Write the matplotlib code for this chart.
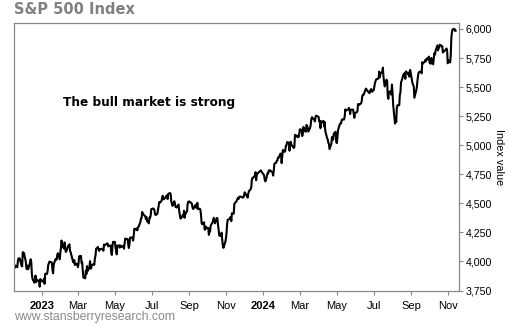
import matplotlib
matplotlib.use("Agg")
import matplotlib.pyplot as plt
import matplotlib.dates as mdates
import pandas as pd

# NYSE market holidays in the charted period
holidays = [
    "2022-11-24", "2022-12-26", "2023-01-02", "2023-01-16", "2023-02-20",
    "2023-04-07", "2023-05-29", "2023-06-19", "2023-07-04", "2023-09-04",
    "2023-11-23", "2023-12-25", "2024-01-01", "2024-01-15", "2024-02-19",
    "2024-03-29", "2024-05-27", "2024-06-19", "2024-07-04", "2024-09-02",
]

# Daily closes of the S&P 500, Nov 16 2022 .. Nov 13 2024
close_2022 = [
    3958, 3946, 3965, 3950, 4003, 4027, 4026, 3964, 3958, 4080,
    4076, 4072, 3999, 3941, 3933, 3964, 3934, 3991, 4019, 3996, 3895,
    3852, 3818, 3821, 3879, 3822, 3845, 3829, 3783, 3849, 3840,
]
close_2023_h1 = [
    3824, 3853, 3808, 3895, 3893, 3919, 3970, 3983, 3999, 3991, 3929,
    3899, 3973, 4020, 4017, 4016, 4060, 4071, 4018, 4077,
    4119, 4180, 4136, 4111, 4164, 4118, 4082, 4090, 4137, 4136, 4148,
    4090, 4079, 3997, 3991, 4012, 3970, 3982, 3970,
    3951, 3981, 4045, 4048, 3986, 3992, 3918, 3862, 3855, 3920, 3892,
    3960, 3917, 3951, 4003, 3937, 3948, 3971, 3977, 3971, 4028, 4051, 4109,
    4125, 4101, 4091, 4105, 4109, 4108, 4092, 4146, 4138, 4151, 4155,
    4154, 4130, 4133, 4138, 4072, 4056, 4136, 4169,
    4168, 4120, 4091, 4061, 4136, 4138, 4119, 4138, 4131, 4124, 4136,
    4110, 4158, 4198, 4192, 4193, 4146, 4116, 4151, 4205, 4206, 4180,
    4221, 4282, 4273, 4284, 4268, 4294, 4299, 4338, 4369, 4373, 4426,
    4410, 4389, 4366, 4382, 4348, 4328, 4378, 4376, 4396, 4450,
]
close_2023_h2 = [
    4456, 4447, 4412, 4399, 4410, 4439, 4472, 4510, 4505, 4522, 4555,
    4566, 4535, 4536, 4554, 4567, 4566, 4537, 4582, 4589,
    4577, 4513, 4502, 4478, 4518, 4499, 4468, 4469, 4464, 4490, 4437,
    4404, 4370, 4370, 4400, 4388, 4436, 4376, 4406, 4433, 4498, 4515, 4508,
    4516, 4497, 4465, 4451, 4458, 4487, 4462, 4467, 4505, 4450, 4454,
    4444, 4402, 4330, 4320, 4337, 4274, 4275, 4300, 4288,
    4288, 4229, 4263, 4258, 4309, 4336, 4358, 4376, 4350, 4328, 4374,
    4373, 4315, 4278, 4224, 4218, 4248, 4186, 4137, 4117, 4167, 4194,
    4237, 4318, 4358, 4366, 4378, 4383, 4347, 4415, 4411, 4496, 4503,
    4508, 4514, 4547, 4538, 4556, 4559, 4550, 4555, 4551, 4568,
    4595, 4569, 4567, 4549, 4585, 4604, 4622, 4644, 4707, 4720, 4719,
    4740, 4768, 4699, 4746, 4755, 4775, 4781, 4783, 4770,
]
close_2024_h1 = [
    4743, 4705, 4689, 4697, 4764, 4757, 4783, 4780, 4784, 4766, 4739,
    4780, 4840, 4850, 4865, 4869, 4894, 4891, 4928, 4925, 4846,
    4906, 4959, 4943, 4954, 4995, 4998, 5027, 5022, 4953, 5001, 5030,
    5006, 4976, 4982, 5087, 5089, 5070, 5078, 5070, 5096,
    5137, 5131, 5079, 5105, 5157, 5124, 5117, 5175, 5165, 5151, 5117,
    5149, 5179, 5225, 5241, 5234, 5218, 5204, 5248, 5254,
    5243, 5205, 5211, 5147, 5204, 5202, 5209, 5161, 5200, 5123, 5061,
    5051, 5022, 5011, 4967, 5011, 5070, 5072, 5048, 5100, 5116, 5036,
    5018, 5064, 5128, 5181, 5187, 5188, 5214, 5223, 5221, 5247, 5308,
    5297, 5303, 5308, 5321, 5307, 5268, 5305, 5306, 5267, 5236, 5278,
    5283, 5291, 5354, 5352, 5347, 5361, 5375, 5421, 5434, 5431, 5473,
    5487, 5473, 5464, 5448, 5469, 5478, 5483, 5460,
]
close_2024_h2 = [
    5475, 5509, 5537, 5567, 5572, 5577, 5633, 5585, 5615, 5631, 5667,
    5588, 5545, 5505, 5564, 5556, 5427, 5399, 5459, 5464, 5436, 5522,
    5446, 5347, 5186, 5240, 5199, 5319, 5344, 5344, 5434, 5455, 5543,
    5554, 5608, 5597, 5621, 5571, 5635, 5616, 5625, 5592, 5591, 5648,
    5529, 5520, 5503, 5408, 5471, 5496, 5554, 5596, 5626, 5634, 5634,
    5618, 5714, 5703, 5718, 5732, 5722, 5745, 5738, 5762,
    5709, 5710, 5700, 5751, 5696, 5751, 5792, 5780, 5815, 5859, 5815,
    5843, 5841, 5865, 5853, 5851, 5797, 5809, 5808, 5823, 5832, 5813, 5705,
    5729, 5712, 5782, 5929, 5973, 5996, 6001, 5984, 5985,
]

y_ticks = [3750, 4000, 4250, 4500, 4750, 5000, 5250, 5500, 5750, 6000]
x_tick_dates = ["2023-01-01", "2023-03-01", "2023-05-01", "2023-07-01",
                "2023-09-01", "2023-11-01", "2024-01-01", "2024-03-01",
                "2024-05-01", "2024-07-01", "2024-09-01", "2024-11-01"]
x_tick_labels = ["2023", "Mar", "May", "Jul", "Sep", "Nov",
                 "2024", "Mar", "May", "Jul", "Sep", "Nov"]

closes = close_2022 + close_2023_h1 + close_2023_h2 + close_2024_h1 + close_2024_h2
dates = pd.bdate_range("2022-11-16", periods=len(closes), freq="C",
                       holidays=holidays)

fig = plt.figure(figsize=(5.10, 3.25), dpi=100)
ax = fig.add_axes([0.028, 0.1046, 0.8725, 0.8256])

ax.plot(dates, closes, color="black", lw=1.5, solid_joinstyle="round")

ax.set_xlim(pd.Timestamp("2022-11-16"), pd.Timestamp("2024-11-19"))
ax.set_ylim(3746, 6054)

ax.yaxis.tick_right()
ax.yaxis.set_label_position("right")
ax.set_yticks(y_ticks)
ax.set_yticklabels([f"{v:,}" for v in y_ticks])
ax.set_ylabel("Index value", rotation=270, labelpad=9,
              fontsize=7.8, family="Liberation Sans")

ax.set_xticks([mdates.date2num(pd.Timestamp(d)) for d in x_tick_dates])
ax.set_xticklabels(x_tick_labels)
for lbl in ax.get_xticklabels():
    if lbl.get_text().isdigit():
        lbl.set_fontweight("bold")

ax.tick_params(axis="both", labelsize=8, length=3, width=0.8,
               color="#888888", labelcolor="black")
ax.tick_params(axis="x", pad=4)
ax.tick_params(axis="y", pad=1.5, labelsize=7.7)
for lbl in ax.get_xticklabels() + ax.get_yticklabels():
    lbl.set_family("Liberation Sans")

for sp in ax.spines.values():
    sp.set_color("#888888")
    sp.set_linewidth(0.9)

ax.text(0.110, 0.703, "The bull market is strong", transform=ax.transAxes,
        fontsize=8.7, fontweight="bold", family="DejaVu Sans",
        ha="left", va="center", color="black")

fig.text(14 / 510, 1 - 10 / 325, "S&P 500 Index", fontsize=10.5,
         fontweight="bold", family="DejaVu Sans", color="#808080",
         ha="left", va="center")
fig.text(14 / 510, 1 - 317 / 325, "www.stansberryresearch.com", fontsize=8.8,
         family="Liberation Sans", color="#8a8a8a", ha="left", va="center")

fig.savefig("out.png", dpi=100)
